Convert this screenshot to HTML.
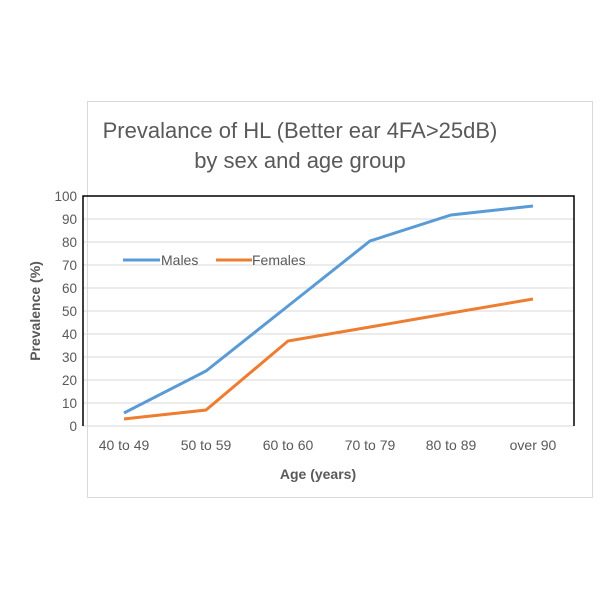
<!DOCTYPE html>
<html><head><meta charset="utf-8"><style>body{margin:0;background:#fff}svg{display:block}</style></head><body>
<svg width="600" height="600" xmlns="http://www.w3.org/2000/svg" font-family="Liberation Sans, sans-serif">
<rect x="87.5" y="101.5" width="505" height="396" fill="#fff" stroke="#d9d9d9"/>
<text x="300" y="138" text-anchor="middle" font-size="22" fill="#595959">Prevalance of HL (Better ear 4FA&gt;25dB)</text>
<text x="300" y="168" text-anchor="middle" font-size="22" fill="#595959">by sex and age group</text>
<g stroke="#d9d9d9" stroke-width="1">
<line x1="83" x2="574" y1="219" y2="219"/><line x1="83" x2="574" y1="242" y2="242"/><line x1="83" x2="574" y1="265" y2="265"/><line x1="83" x2="574" y1="288" y2="288"/><line x1="83" x2="574" y1="311" y2="311"/><line x1="83" x2="574" y1="334" y2="334"/><line x1="83" x2="574" y1="357" y2="357"/><line x1="83" x2="574" y1="380" y2="380"/><line x1="83" x2="574" y1="403" y2="403"/><line x1="83" x2="574" y1="426" y2="426"/>
</g>
<path d="M83 426 V196 H574 V426" fill="none" stroke="#000" stroke-width="1.5"/>
<g font-size="13.5" fill="#595959" text-anchor="end">
<text x="77" y="201">100</text><text x="77" y="224">90</text><text x="77" y="247">80</text><text x="77" y="270">70</text><text x="77" y="293">60</text><text x="77" y="316">50</text><text x="77" y="339">40</text><text x="77" y="362">30</text><text x="77" y="385">20</text><text x="77" y="408">10</text><text x="77" y="431">0</text>
</g>
<g font-size="14" fill="#595959" text-anchor="middle">
<text x="124" y="450">40 to 49</text><text x="206" y="450">50 to 59</text><text x="288" y="450">60 to 60</text><text x="370" y="450">70 to 79</text><text x="451" y="450">80 to 89</text><text x="533" y="450">over 90</text>
</g>
<text x="318" y="479" text-anchor="middle" font-size="14" font-weight="bold" fill="#595959">Age (years)</text>
<text transform="translate(40,311) rotate(-90)" text-anchor="middle" font-size="14" font-weight="bold" fill="#595959">Prevalence  (%)</text>
<polyline points="124,413 206,371 288,306 370,241 451,215 533,206" fill="none" stroke="#5b9bd5" stroke-width="3"/>
<polyline points="124,419 206,410 288,341 370,327 451,313 533,299" fill="none" stroke="#ed7d31" stroke-width="3"/>
<line x1="123" x2="160" y1="260" y2="260" stroke="#5b9bd5" stroke-width="3"/>
<text x="161" y="265" font-size="14" fill="#595959">Males</text>
<line x1="216" x2="252" y1="260" y2="260" stroke="#ed7d31" stroke-width="3"/>
<text x="252" y="265" font-size="14" fill="#595959">Females</text>
</svg>
</body></html>
